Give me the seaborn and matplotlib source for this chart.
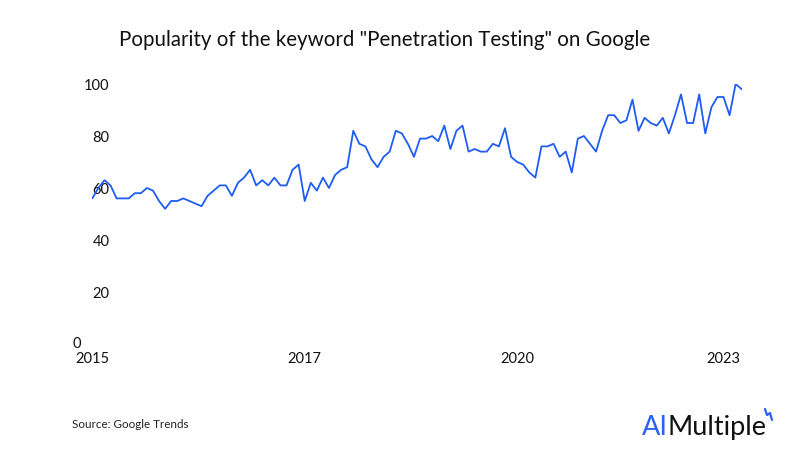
import numpy as np
import pandas as pd
import matplotlib
matplotlib.use("Agg")
import matplotlib.pyplot as plt
import matplotlib.transforms as mtransforms
from matplotlib.lines import Line2D
import seaborn as sns

# Google Trends interest for "Penetration Testing"
popularity = [56, 60, 63, 61, 56, 56, 56, 58, 58, 60, 59, 55, 52, 55, 55, 56, 55, 54,
              53, 57, 59, 61, 61, 57, 62, 64, 67, 61, 63, 61, 64, 61, 61, 67, 69, 55,
              62, 59, 64, 60, 65, 67, 68, 82, 77, 76, 71, 68, 72, 74, 82, 81, 77, 72,
              79, 79, 80, 78, 84, 75, 82, 84, 74, 75, 74, 74, 77, 76, 83, 72, 70, 69,
              66, 64, 76, 76, 77, 72, 74, 66, 79, 80, 77, 74, 82, 88, 88, 85, 86, 94,
              82, 87, 85, 84, 87, 81, 88, 96, 85, 85, 96, 81, 91, 95, 95, 88, 100, 98]
year_labels = ["2015", "2017", "2020", "2023"]
year_ticks = [0, 35, 70, 104]
y_ticks = [0, 20, 40, 60, 80, 100]

df = pd.DataFrame({"idx": np.arange(len(popularity)), "popularity": popularity})

sns.set_style("white")
plt.rcParams['font.family'] = ['Lato', 'DejaVu Sans']

fig = plt.figure(figsize=(8, 4.64), dpi=100)
ax = fig.add_axes([92.3 / 800, 119 / 464, 649.4 / 800, 260 / 464])

sns.lineplot(data=df, x="idx", y="popularity", ax=ax, color="#1f5cf2", linewidth=1.3)

ax.set_xlim(0, len(popularity) - 1)
ax.set_ylim(0, 100)
ax.set_xticks(year_ticks)
ax.set_xticklabels(year_labels)
ax.set_yticks(y_ticks)
ax.set_yticklabels([str(v) for v in y_ticks])
ax.set_xlabel("")
ax.set_ylabel("")
sns.despine(ax=ax, left=True, bottom=True)
ax.tick_params(axis="both", length=0, labelsize=10.5, labelcolor="#111111")
ax.tick_params(axis="y", pad=-12.5)
ax.tick_params(axis="x", pad=5)

# the "0" label sits further left and a bit higher in the original
for lab in ax.get_yticklabels():
    if lab.get_text() == "0":
        lab.set_transform(lab.get_transform() +
                          mtransforms.ScaledTranslation(-29 / 100, 2 / 100, fig.dpi_scale_trans))

fig.text(385 / 800, 1 - 40 / 464, 'Popularity of the keyword "Penetration Testing" on Google',
         ha="center", va="center", fontsize=14.8, color="#111111")
fig.text(72 / 800, 1 - 425 / 464, "Source: Google Trends", ha="left", va="center",
         fontsize=8.4, color="#222222")

# logo
t1 = fig.text(642 / 800, 1 - 428 / 464, "AI", ha="left", va="center", fontsize=19.5,
              color="#2a62f4")
fig.canvas.draw()
bb = t1.get_window_extent()
fig.text(bb.x1 / 800, 1 - 428 / 464, "Multiple", ha="left", va="center", fontsize=19.5,
         color="#111111")
fig.add_artist(Line2D([765 / 800, 767 / 800, 770 / 800, 772 / 800],
                      [1 - 410 / 464, 1 - 416 / 464, 1 - 414 / 464, 1 - 421 / 464],
                      transform=fig.transFigure, color="#2a62f4", linewidth=1.6))

fig.savefig("out.png", dpi=100)
